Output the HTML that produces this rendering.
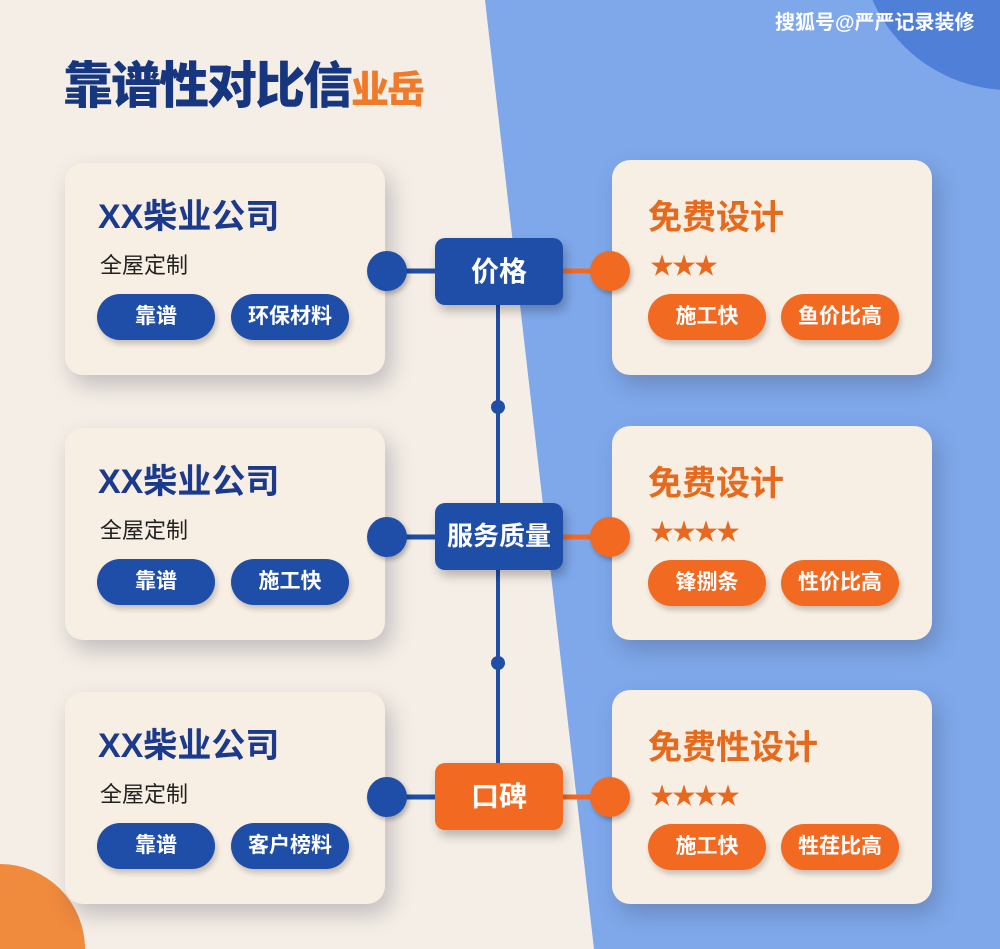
<!DOCTYPE html>
<html style="width:1000px;height:949px;overflow:hidden"><head><meta charset="utf-8"><style>
*{margin:0;padding:0;box-sizing:border-box}
body{width:1000px;height:949px;overflow:hidden;position:relative;font-family:"Liberation Sans","Noto Sans CJK SC",sans-serif;background:#f5eee6}
.abs{position:absolute}
svg{display:block}
.card{position:absolute;width:320px;height:212px;background:#f8efe4;border-radius:18px;box-shadow:6px 10px 22px rgba(60,60,90,.28)}
.lt{position:absolute;left:33px;top:26px;font-size:34px;font-weight:bold;color:#1b3a8c}
.rt{position:absolute;left:36px;top:30px;font-size:34px;font-weight:bold;color:#e56a1e}
.sub{position:absolute;left:35px;top:85px;font-size:22px;color:#222}
.stars{position:absolute;left:38px;top:86px;font-size:24px;color:#e8681f;letter-spacing:-2px}
.pill{position:absolute;top:131px;width:118px;height:46px;border-radius:23px;color:#fff;font-size:21px;font-weight:bold;text-align:center;line-height:46px;box-shadow:2px 4px 6px rgba(0,0,0,.2)}
.rp{top:134px}
.b{background:#1f4ea8}.o{background:#f26a22}
.node{position:absolute;left:435px;width:128px;height:67px;border-radius:10px;color:#fff;font-size:28px;font-weight:bold;text-align:center;line-height:67px;box-shadow:3px 6px 10px rgba(0,0,0,.25)}
.dot{position:absolute;width:40px;height:40px;border-radius:50%;box-shadow:2px 3px 5px rgba(0,0,0,.25)}
</style></head><body>
<svg class="abs" style="left:0;top:0" width="1000" height="949">
<polygon points="485,0 1000,0 1000,949 594,949" fill="#7ea8ea"/>
<circle cx="1010" cy="-60" r="150" fill="#4f7fd6"/>
<circle cx="0" cy="949" r="85" fill="#f08a3c"/>
<line x1="498" y1="300" x2="498" y2="770" stroke="#1f4ea8" stroke-width="4"/>
<circle cx="498" cy="407" r="7" fill="#1f4ea8"/>
<circle cx="498" cy="663" r="7" fill="#1f4ea8"/>
<line x1="390" y1="271" x2="440" y2="271" stroke="#1f4ea8" stroke-width="5"/>
<line x1="390" y1="537" x2="440" y2="537" stroke="#1f4ea8" stroke-width="5"/>
<line x1="390" y1="797" x2="440" y2="797" stroke="#1f4ea8" stroke-width="5"/>
<line x1="560" y1="271" x2="610" y2="271" stroke="#f26a22" stroke-width="5"/>
<line x1="560" y1="537" x2="610" y2="537" stroke="#f26a22" stroke-width="5"/>
<line x1="560" y1="797" x2="610" y2="797" stroke="#f26a22" stroke-width="5"/>
</svg>
<div class="abs" style="left:775px;top:6px;font-size:20px;color:#fff;font-weight:bold">搜狐号@严严记录装修</div>
<div class="abs" style="left:63px;top:46px;font-size:50px;font-weight:900;color:#16367f;letter-spacing:-2px;white-space:nowrap">靠谱性对比信<span style="color:#ef7a2a;font-size:38px">业岳</span></div>

<div class="card" style="left:65px;top:163px"><div class="lt">XX柴业公司</div><div class="sub">全屋定制</div><div class="pill b" style="left:32px">靠谱</div><div class="pill b" style="left:166px">环保材料</div></div>
<div class="card" style="left:65px;top:428px"><div class="lt">XX柴业公司</div><div class="sub">全屋定制</div><div class="pill b" style="left:32px">靠谱</div><div class="pill b" style="left:166px">施工快</div></div>
<div class="card" style="left:65px;top:692px"><div class="lt">XX柴业公司</div><div class="sub">全屋定制</div><div class="pill b" style="left:32px">靠谱</div><div class="pill b" style="left:166px">客户榜料</div></div>

<div class="card" style="left:612px;top:160px;height:215px"><div class="rt">免费设计</div><div class="stars">★★★</div><div class="pill o rp" style="left:36px">施工快</div><div class="pill o rp" style="left:169px">鱼价比高</div></div>
<div class="card" style="left:612px;top:426px;height:214px"><div class="rt">免费设计</div><div class="stars">★★★★</div><div class="pill o rp" style="left:36px">锋捌条</div><div class="pill o rp" style="left:169px">性价比高</div></div>
<div class="card" style="left:612px;top:690px;height:214px"><div class="rt">免费性设计</div><div class="stars">★★★★</div><div class="pill o rp" style="left:36px">施工快</div><div class="pill o rp" style="left:169px">牲荏比高</div></div>

<div class="dot b" style="left:367px;top:251px"></div>
<div class="dot b" style="left:367px;top:517px"></div>
<div class="dot b" style="left:367px;top:777px"></div>
<div class="dot o" style="left:590px;top:251px"></div>
<div class="dot o" style="left:590px;top:517px"></div>
<div class="dot o" style="left:590px;top:777px"></div>
<div class="node b" style="top:238px">价格</div>
<div class="node b" style="top:503px;font-size:26px">服务质量</div>
<div class="node o" style="top:763px">口碑</div>
</body></html>
